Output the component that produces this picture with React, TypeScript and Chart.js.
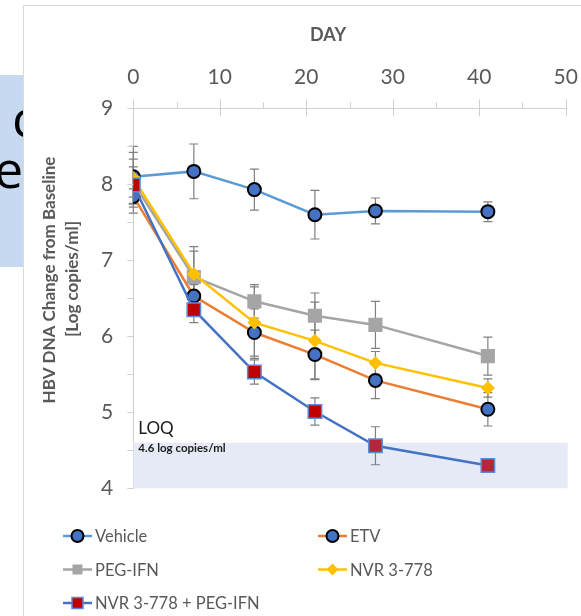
import React, { useEffect, useRef } from "react";
import { Chart, registerables } from "chart.js";

Chart.register(...registerables);

// Study days and mean HBV DNA (log copies/ml) with error half-widths
const days = [0, 7, 14, 21, 28, 41];
const vehicle = [8.1, 8.17, 7.93, 7.6, 7.65, 7.64];
const vehicleErr = [0.4, 0.36, 0.27, 0.32, 0.17, 0.13];
const etv = [7.84, 6.53, 6.05, 5.76, 5.42, 5.04];
const etvErr = [0.1, 0.15, 0.31, 0.32, 0.24, 0.22];
const pegIfn = [8.02, 6.78, 6.46, 6.27, 6.15, 5.74];
const pegIfnErr = [0.4, 0.4, 0.22, 0.3, 0.31, 0.25];
const nvr = [8.08, 6.82, 6.18, 5.94, 5.65, 5.32];
const nvrErr = [0.25, 0.3, 0.47, 0.51, 0.15, 0.12];
const combo = [7.99, 6.35, 5.53, 5.01, 4.56, 4.3];
const comboErr = [0.24, 0.17, 0.16, 0.18, 0.25, 0.0];

const seriesNames = ["Vehicle", "ETV", "PEG-IFN", "NVR 3-778", "NVR 3-778 + PEG-IFN"];
const xMin = 0;
const xMax = 50;
const xStep = 10;
const yMin = 4;
const yMax = 9;
const yStep = 1;
const loqValue = 4.6;
const loqTitle = "LOQ";
const loqLabel = "4.6 log copies/ml";
const xTitle = "DAY";
const yTitleLines = ["HBV DNA Change from Baseline", "[Log copies/ml]"];

const FONT = "Lato, 'Open Sans', 'Noto Sans', sans-serif";
const TEXT = "#595959";
const AXIS = "#D0D0D0";

type Marker = "circle" | "rect" | "rectRot";

const toPoints = (vals: number[]) => days.map((d, i) => ({ x: d, y: vals[i] }));

function drawMarker(
  ctx: CanvasRenderingContext2D,
  kind: Marker,
  x: number,
  y: number,
  size: number,
  fill: string,
  stroke: string,
  lw: number
) {
  ctx.save();
  ctx.beginPath();
  if (kind === "circle") {
    ctx.arc(x, y, size, 0, Math.PI * 2);
  } else if (kind === "rect") {
    ctx.rect(x - size, y - size, size * 2, size * 2);
  } else {
    ctx.moveTo(x, y - size);
    ctx.lineTo(x + size, y);
    ctx.lineTo(x, y + size);
    ctx.lineTo(x - size, y);
    ctx.closePath();
  }
  ctx.fillStyle = fill;
  ctx.fill();
  if (lw > 0) {
    ctx.lineWidth = lw;
    ctx.strokeStyle = stroke;
    ctx.stroke();
  }
  ctx.restore();
}

// Light band below the limit of quantification, error bars under the markers
const underlayPlugin = {
  id: "underlay",
  beforeDatasetsDraw(chart: any) {
    const { ctx, scales } = chart;
    const xs = scales.x;
    const ys = scales.y;
    ctx.save();
    const top = ys.getPixelForValue(loqValue);
    const bottom = ys.getPixelForValue(yMin);
    const left = xs.getPixelForValue(xMin);
    const right = xs.getPixelForValue(xMax) + 2;
    ctx.fillStyle = "rgb(230,234,246)";
    ctx.fillRect(left, top, right - left, bottom - top);

    ctx.fillStyle = "#1a1a1a";
    ctx.textAlign = "left";
    ctx.textBaseline = "middle";
    ctx.font = `17px ${FONT}`;
    ctx.fillText(loqTitle, left + 5, top - 14);
    ctx.font = `bold 11.5px ${FONT}`;
    ctx.fillText(loqLabel, left + 5, top + 6);

    ctx.strokeStyle = "#808080";
    ctx.lineWidth = 1.2;
    chart.data.datasets.forEach((ds: any) => {
      const errs: number[] = ds.errorBars || [];
      ds.data.forEach((p: any, i: number) => {
        const e = errs[i] || 0;
        if (e <= 0) return;
        const px = xs.getPixelForValue(p.x);
        const y1 = ys.getPixelForValue(p.y + e);
        const y2 = ys.getPixelForValue(p.y - e);
        ctx.beginPath();
        ctx.moveTo(px, y1);
        ctx.lineTo(px, y2);
        ctx.moveTo(px - 4.5, y1);
        ctx.lineTo(px + 4.5, y1);
        ctx.moveTo(px - 4.5, y2);
        ctx.lineTo(px + 4.5, y2);
        ctx.stroke();
      });
    });
    ctx.restore();
  },
};

const overlayPlugin = {
  id: "overlay",
  afterDraw(chart: any) {
    const { ctx, scales, chartArea } = chart;
    const xs = scales.x;
    const ys = scales.y;
    ctx.save();
    ctx.strokeStyle = AXIS;
    ctx.lineWidth = 1;
    // x-axis tick marks (majors cross the axis, minors sit above it)
    for (let v = xMin; v <= xMax + 1e-9; v += xStep / 2) {
      const px = Math.round(xs.getPixelForValue(v)) + 0.5;
      const major = Math.abs(v / xStep - Math.round(v / xStep)) < 1e-6;
      ctx.beginPath();
      ctx.moveTo(px, chartArea.top - (major ? 9 : 6));
      ctx.lineTo(px, chartArea.top + (major ? 8 : 0));
      ctx.stroke();
    }
    // y-axis tick marks
    for (let v = yMin; v <= yMax + 1e-9; v += yStep / 2) {
      const py = Math.round(ys.getPixelForValue(v)) + 0.5;
      ctx.beginPath();
      ctx.moveTo(chartArea.left - 6, py);
      ctx.lineTo(chartArea.left, py);
      ctx.stroke();
    }

    // axis titles
    ctx.fillStyle = TEXT;
    ctx.textAlign = "center";
    ctx.textBaseline = "middle";
    ctx.font = `bold 18px ${FONT}`;
    ctx.fillText(xTitle, 328, 35);
    ctx.font = `bold 17px ${FONT}`;
    ctx.save();
    ctx.translate(50, 280);
    ctx.rotate(-Math.PI / 2);
    ctx.fillText(yTitleLines[0], 0, 0);
    ctx.restore();
    ctx.save();
    ctx.translate(73, 279);
    ctx.rotate(-Math.PI / 2);
    ctx.fillText(yTitleLines[1], 0, 0);
    ctx.restore();

    // legend in two columns
    const cols = [63, 318];
    const rows = [536, 569.5, 603];
    chart.data.datasets.forEach((ds: any, i: number) => {
      const x0 = cols[i % 2];
      const y0 = rows[Math.floor(i / 2)];
      ctx.strokeStyle = ds.borderColor;
      ctx.lineWidth = 2.5;
      ctx.beginPath();
      ctx.moveTo(x0, y0);
      ctx.lineTo(x0 + 29, y0);
      ctx.stroke();
      const lm = ds.legendMarker;
      drawMarker(ctx, lm.kind, x0 + 14.5, y0, lm.size, lm.fill, lm.stroke, lm.lw);
      ctx.fillStyle = TEXT;
      ctx.textAlign = "left";
      ctx.textBaseline = "middle";
      ctx.font = `16.5px ${FONT}`;
      ctx.fillText(ds.label, x0 + 32, y0 + 1);
    });
    ctx.restore();
  },
};

export default function App() {
  const canvasRef = useRef<HTMLCanvasElement | null>(null);

  useEffect(() => {
    const canvas = canvasRef.current;
    if (!canvas) return;
    const circle = {
      pointStyle: "circle",
      pointRadius: 6.5,
      pointHoverRadius: 6.5,
      pointBackgroundColor: "#4472C4",
      pointBorderColor: "#000000",
      pointBorderWidth: 2,
    };
    const chart = new Chart(canvas, {
      type: "scatter",
      data: {
        datasets: [
          {
            label: seriesNames[0],
            data: toPoints(vehicle),
            errorBars: vehicleErr,
            showLine: true,
            borderColor: "#5B9BD5",
            borderWidth: 2.5,
            order: 4,
            ...circle,
            legendMarker: { kind: "circle", size: 6, fill: "#4472C4", stroke: "#000", lw: 2 },
          },
          {
            label: seriesNames[1],
            data: toPoints(etv),
            errorBars: etvErr,
            showLine: true,
            borderColor: "#ED7D31",
            borderWidth: 2.5,
            order: 3,
            ...circle,
            legendMarker: { kind: "circle", size: 6, fill: "#4472C4", stroke: "#000", lw: 2 },
          },
          {
            label: seriesNames[2],
            data: toPoints(pegIfn),
            errorBars: pegIfnErr,
            showLine: true,
            borderColor: "#A5A5A5",
            borderWidth: 2.5,
            order: 2,
            pointStyle: "rect",
            pointRadius: 10,
            pointHoverRadius: 10,
            pointBackgroundColor: "#A5A5A5",
            pointBorderColor: "#A5A5A5",
            pointBorderWidth: 0,
            legendMarker: { kind: "rect", size: 5, fill: "#A5A5A5", stroke: "#A5A5A5", lw: 0 },
          },
          {
            label: seriesNames[3],
            data: toPoints(nvr),
            errorBars: nvrErr,
            showLine: true,
            borderColor: "#FFC000",
            borderWidth: 2.5,
            order: 1,
            pointStyle: "rectRot",
            pointRadius: 7,
            pointHoverRadius: 7,
            pointBackgroundColor: "#FFC000",
            pointBorderColor: "#FFC000",
            pointBorderWidth: 0,
            legendMarker: { kind: "rectRot", size: 6, fill: "#FFC000", stroke: "#FFC000", lw: 0 },
          },
          {
            label: seriesNames[4],
            data: toPoints(combo),
            errorBars: comboErr,
            showLine: true,
            borderColor: "#4472C4",
            borderWidth: 2.5,
            order: 0,
            pointStyle: "rect",
            pointRadius: 9.5,
            pointHoverRadius: 9.5,
            pointBackgroundColor: ["#C00000", "#C00000", "#C00000", "#C00000", "#B5263A", "#B5263A"],
            pointBorderColor: "#5B8BD5",
            pointBorderWidth: 1.5,
            legendMarker: { kind: "rect", size: 5.5, fill: "#C00000", stroke: "#5B8BD5", lw: 1.5 },
          },
        ] as any,
      },
      options: {
        animation: false,
        responsive: false,
        devicePixelRatio: 1,
        events: [],
        layout: { padding: { left: 0, top: 0, right: 15.3, bottom: 127.7 } },
        elements: { line: { tension: 0 } },
        plugins: { legend: { display: false }, tooltip: { enabled: false } },
        scales: {
          x: {
            type: "linear",
            position: "top",
            min: xMin,
            max: xMax,
            afterFit: (s: any) => {
              s.height = 108.3;
              s.paddingLeft = 0;
              s.paddingRight = 0;
            },
            ticks: {
              stepSize: xStep,
              color: TEXT,
              font: { family: FONT, size: 21 },
              padding: 10,
              maxRotation: 0,
            },
            grid: { display: false },
            border: { display: true, color: AXIS, width: 1 },
          },
          y: {
            type: "linear",
            min: yMin,
            max: yMax,
            afterFit: (s: any) => {
              s.width = 133.3;
              s.paddingTop = 0;
              s.paddingBottom = 0;
            },
            ticks: {
              stepSize: yStep,
              color: TEXT,
              font: { family: FONT, size: 21 },
              padding: 12,
            },
            grid: { display: false },
            border: { display: true, color: AXIS, width: 1 },
          },
        },
      },
      plugins: [underlayPlugin, overlayPlugin],
    } as any);
    return () => chart.destroy();
  }, []);

  return (
    <div
      style={{
        position: "fixed",
        left: 0,
        top: 0,
        width: 581,
        height: 616,
        overflow: "hidden",
        background: "#ffffff",
      }}
    >
      <div
        style={{
          position: "absolute",
          left: 0,
          top: 75,
          width: 140,
          height: 192,
          background: "#C6D9F1",
          fontFamily: "'Open Sans', 'Noto Sans', sans-serif",
          fontSize: 52,
          color: "#000",
        }}
      >
        <span style={{ position: "absolute", left: 12, top: 42, lineHeight: "0px" }}>c</span>
        <span style={{ position: "absolute", left: -6, top: 93, lineHeight: "0px" }}>e</span>
      </div>
      <div
        style={{
          position: "absolute",
          left: 23,
          top: 5,
          width: 700,
          height: 800,
          background: "#ffffff",
          border: "1px solid #D9D9D9",
          boxSizing: "border-box",
        }}
      />
      <canvas
        ref={canvasRef}
        width={581}
        height={616}
        style={{ position: "absolute", left: 0, top: 0, width: 581, height: 616, display: "block" }}
      />
    </div>
  );
}
